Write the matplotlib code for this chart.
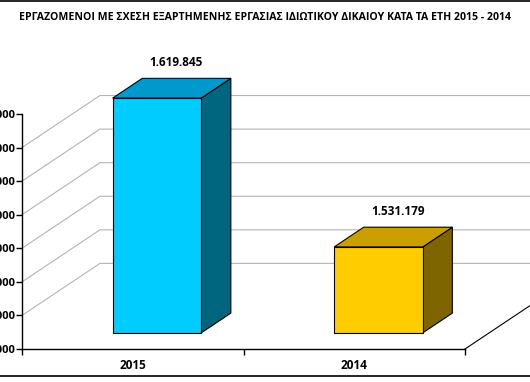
import matplotlib.pyplot as plt
from matplotlib.patches import Polygon
from matplotlib.lines import Line2D

# data
years = ['2015', '2014']
values = [1619845, 1531179]
value_labels = ['1.619.845', '1.531.179']
y_ticks = [1480000, 1500000, 1520000, 1540000, 1560000, 1580000, 1600000, 1620000]
y_tick_labels = ['1.480.000', '1.500.000', '1.520.000', '1.540.000',
                 '1.560.000', '1.580.000', '1.600.000', '1.620.000']
title = 'ΕΡΓΑΖΟΜΕΝΟΙ ΜΕ ΣΧΕΣΗ ΕΞΑΡΤΗΜΕΝΗΣ ΕΡΓΑΣΙΑΣ ΙΔΙΩΤΙΚΟΥ ΔΙΚΑΙΟΥ ΚΑΤΑ ΤΑ ΕΤΗ 2015 - 2014'

front_colors = ['#00CCFF', '#FFCC00']
top_colors = ['#0099CC', '#CC9F00']
side_colors = ['#00667F', '#7F6500']

plt.rcParams['font.family'] = ['Open Sans', 'DejaVu Sans']

fig = plt.figure(figsize=(5.30, 3.82), dpi=100)
ax = fig.add_axes([22 / 530, 1 - 349 / 382, 443 / 530, 235 / 382])
ymin, ymax = y_ticks[0], y_ticks[-1]
ax.set_xlim(-0.5, 1.5)
ax.set_ylim(ymin, ymax)

# depth of the 3d box in data units
DX = 0.352
DY = 31000
f0, f1 = 0.31, 0.69
w = 0.2

# back wall gridlines
for v in y_ticks[1:-1]:
    ax.plot([-0.5, -0.5 + DX, 1.5 + DX], [v, v + DY, v + DY],
            color='#B4B4B4', lw=0.8, clip_on=False, zorder=1)
# floor right edge
ax.plot([1.5, 1.5 + DX], [ymin, ymin + DY], color='black', lw=0.8, clip_on=False, zorder=1)

for i, v in enumerate(values):
    x0, x1 = i - w, i + w
    front = [(x0 + f0 * DX, ymin + f0 * DY), (x1 + f0 * DX, ymin + f0 * DY),
             (x1 + f0 * DX, v + f0 * DY), (x0 + f0 * DX, v + f0 * DY)]
    side = [(x1 + f0 * DX, ymin + f0 * DY), (x1 + f1 * DX, ymin + f1 * DY),
            (x1 + f1 * DX, v + f1 * DY), (x1 + f0 * DX, v + f0 * DY)]
    top = [(x0 + f0 * DX, v + f0 * DY), (x1 + f0 * DX, v + f0 * DY),
           (x1 + f1 * DX, v + f1 * DY), (x0 + f1 * DX, v + f1 * DY)]
    for pts, c in [(side, side_colors[i]), (top, top_colors[i]), (front, front_colors[i])]:
        ax.add_patch(Polygon(pts, closed=True, facecolor=c, edgecolor='black',
                             lw=0.8, clip_on=False, zorder=3))
    ax.annotate(value_labels[i], (i + 0.56 * DX, v + f1 * DY), xytext=(0, 11.5),
                textcoords='offset points', ha='center', va='center',
                fontsize=8.5, fontweight='bold', annotation_clip=False)

ax.spines['top'].set_visible(False)
ax.spines['right'].set_visible(False)
ax.spines['left'].set_linewidth(1.0)
ax.spines['bottom'].set_linewidth(1.0)
ax.set_yticks(y_ticks)
ax.set_yticklabels(y_tick_labels, fontsize=8, fontweight='bold')
ax.tick_params(axis='y', direction='out', length=4, width=1, pad=1)
ax.set_xticks([0, 1])
ax.set_xticklabels(years, fontsize=8.5, fontweight='bold')
ax.set_xticks([-0.5, 0.5, 1.5], minor=True)
ax.tick_params(axis='x', which='major', length=0, pad=7.5)
ax.tick_params(axis='x', which='minor', direction='out', length=4, width=1)

fig.text(0.5, 1 - 18 / 382, title, ha='center', va='center', fontsize=7.6, fontweight='bold')

fig.add_artist(Line2D([0, 1], [1 - 1 / 382, 1 - 1 / 382], color='black', lw=1.2))
fig.add_artist(Line2D([0, 1], [1 - 376 / 382, 1 - 376 / 382], color='black', lw=1.2))

fig.savefig('out.png', dpi=100)
